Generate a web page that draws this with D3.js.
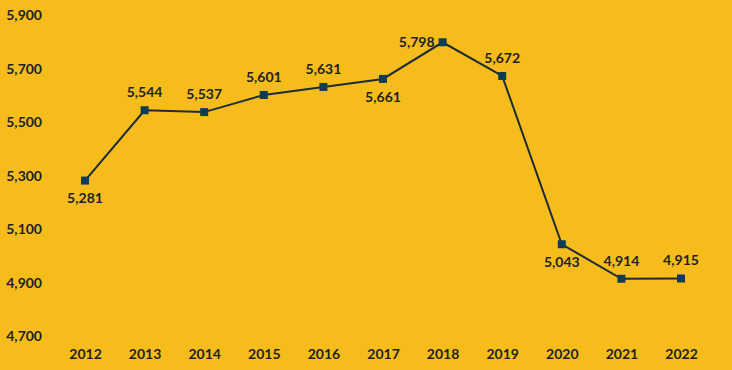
<!DOCTYPE html>
<html>
<head>
<meta charset="utf-8">
<script src="https://cdn.jsdelivr.net/npm/d3@7"></script>
<style>
  html, body { margin: 0; padding: 0; background: #F5BC1C; }
  svg text { font-family: Lato, "Open Sans", sans-serif; font-weight: 700; fill: #231f20; }
</style>
</head>
<body>
<div id="chart"></div>
<script>
const years = ['2012', '2013', '2014', '2015', '2016', '2017', '2018', '2019', '2020', '2021', '2022'];
const values = [5281, 5544, 5537, 5601, 5631, 5661, 5798, 5672, 5043, 4914, 4915];
// where each value label sits relative to its point
const labelPos = ['below', 'above', 'above', 'above', 'above', 'below', 'left', 'above', 'below', 'above', 'above'];
const yTicks = [4700, 4900, 5100, 5300, 5500, 5700, 5900];

const width = 732;
const height = 370;

const svg = d3.select('#chart')
    .append('svg')
    .attr('width', width)
    .attr('height', height);

svg.append('rect')
    .attr('width', width)
    .attr('height', height)
    .attr('fill', '#F5BC1C');

const x = d3.scalePoint()
    .domain(years)
    .range([85, 681]);

const y = d3.scaleLinear()
    .domain([4700, 5900])
    .range([336, 15]);

const fmt = d3.format(',');

// y axis labels
const yAxis = d3.axisLeft(y)
    .tickValues(yTicks)
    .tickFormat(fmt)
    .tickSize(0)
    .tickPadding(0);

svg.append('g')
    .attr('transform', 'translate(42,0)')
    .call(yAxis)
    .call(g => g.select('.domain').remove())
    .call(g => g.selectAll('text')
        .style('font-size', '14px')
        .attr('dy', '0.35em'));

// x axis labels
const xAxis = d3.axisBottom(x).tickSize(0).tickPadding(0);

svg.append('g')
    .attr('transform', 'translate(0,349)')
    .call(xAxis)
    .call(g => g.select('.domain').remove())
    .call(g => g.selectAll('text').style('font-size', '14px'));

const line = d3.line()
    .x((d, i) => x(years[i]))
    .y(d => y(d));

svg.append('path')
    .datum(values)
    .attr('fill', 'none')
    .attr('stroke', '#1d2b33')
    .attr('stroke-width', 2)
    .attr('d', line);

const s = 8;
svg.selectAll('rect.pt')
    .data(values)
    .enter()
    .append('rect')
    .attr('class', 'pt')
    .attr('x', (d, i) => x(years[i]) - s / 2)
    .attr('y', d => y(d) - s / 2)
    .attr('width', s)
    .attr('height', s)
    .attr('fill', '#0f3c52');

svg.selectAll('text.lbl')
    .data(values)
    .enter()
    .append('text')
    .attr('class', 'lbl')
    .style('font-size', '14px')
    .attr('text-anchor', (d, i) => labelPos[i] === 'left' ? 'end' : 'middle')
    .attr('x', (d, i) => labelPos[i] === 'left' ? x(years[i]) - 8 : x(years[i]))
    .attr('y', (d, i) => {
        if (labelPos[i] === 'above') return y(d) - 18;
        if (labelPos[i] === 'below') return y(d) + 18;
        return y(d);
    })
    .attr('dy', '0.35em')
    .text(d => fmt(d));
</script>
</body>
</html>
